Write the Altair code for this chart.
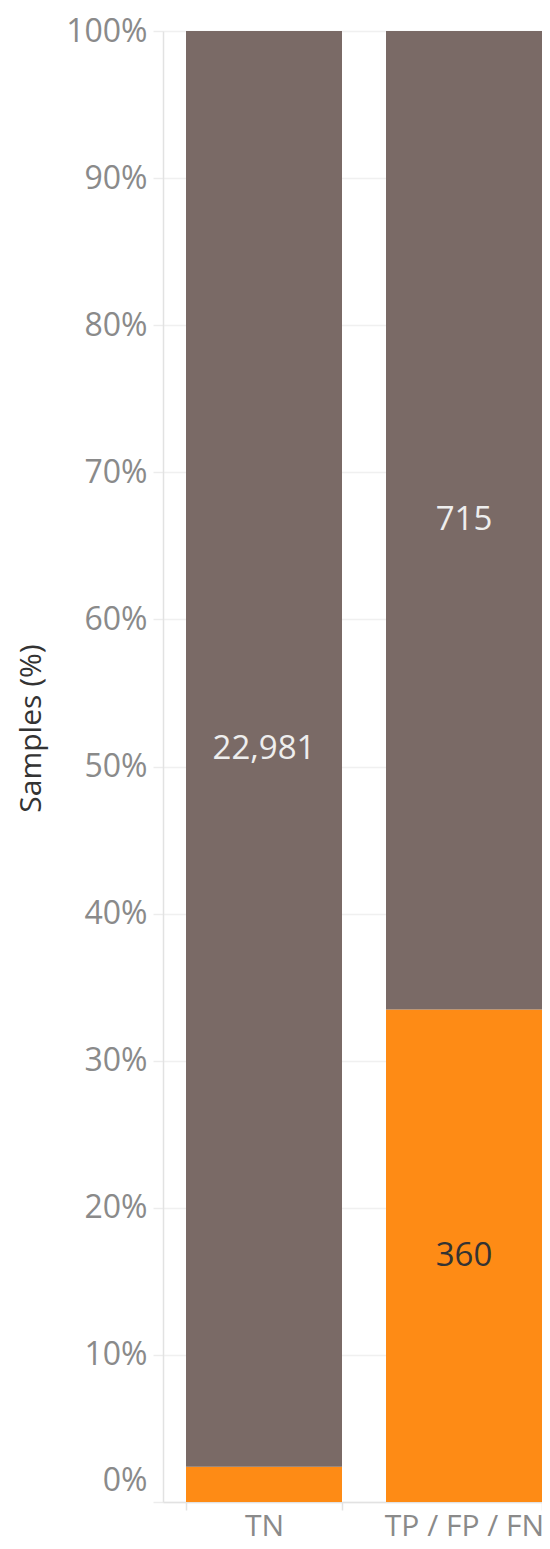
import altair as alt
import pandas as pd

groups = ["TN", "TN", "TP / FP / FN", "TP / FP / FN"]
status = ["orange", "brown", "orange", "brown"]
order = [0, 1, 0, 1]
counts = [565, 22981, 360, 715]
labels = ["", "22,981", "360", "715"]
label_colors = ["#333333", "#eeeeee", "#333333", "#eeeeee"]

df = pd.DataFrame({
    "group": groups, "status": status, "order": order,
    "count": counts, "label": labels, "lc": label_colors,
})

font = "Open Sans"

xscale = alt.Scale(paddingInner=0.22, paddingOuter=0.0575, align=1.0)

base = alt.Chart(df).transform_stack(
    stack="count", groupby=["group"], offset="normalize",
    sort=[alt.SortField("order", "ascending")], as_=["y0", "y1"]
).transform_calculate(mid="(datum.y0 + datum.y1) / 2")

x = alt.X("group:N", scale=xscale, sort=["TN", "TP / FP / FN"],
          axis=alt.Axis(title=None, labelAngle=0, labelFont=font, labelFontSize=30,
                        labelColor="#8a8a8a", tickBand="extent", tickColor="#e2e2e2",
                        tickSize=8, tickWidth=1.5, domainColor="#e2e2e2", domainWidth=1.5,
                        labelPadding=1))

bars = base.mark_bar().encode(
    x=x,
    y=alt.Y("y0:Q", scale=alt.Scale(domain=[0, 1], nice=False),
            axis=alt.Axis(title="Samples (%)", format=".0%",
                          values=[i / 10 for i in range(11)],
                          labelFont=font, labelFontSize=32, labelColor="#8a8a8a",
                          labelOffset={"condition": {"test": "datum.value === 0", "value": -22}, "value": 0},
                          gridColor="#f0f0f0", gridWidth=1.5,
                          tickColor="#ececec", tickSize=10, tickWidth=1.5,
                          domainColor="#e2e2e2", domainWidth=1.5, labelPadding=6,
                          titleFont=font, titleFontSize=30, titleFontWeight="normal",
                          titleColor="#333333", titleX=-132, titleY=697,
                          titleAngle=-90, titleBaseline="middle", titleAlign="center")),
    y2="y1:Q",
    color=alt.Color("status:N", scale=alt.Scale(domain=["orange", "brown"],
                                                range=["#fe8b15", "#7a6a66"]), legend=None),
)

text = base.mark_text(font=font, fontSize=33, baseline="middle").encode(
    x=alt.X("group:N", scale=xscale, sort=["TN", "TP / FP / FN"]),
    y=alt.Y("mid:Q"),
    text="label:N",
    color=alt.Color("lc:N", scale=None),
)

chart = alt.layer(bars, text).properties(
    width=379, height=1471,
    autosize=alt.AutoSizeParams(type="none"),
    padding={"left": 155, "top": 23, "right": 0, "bottom": 38},
).configure_view(stroke=None)

chart.save("out.html", embed_options={"renderer": "svg", "actions": False})
